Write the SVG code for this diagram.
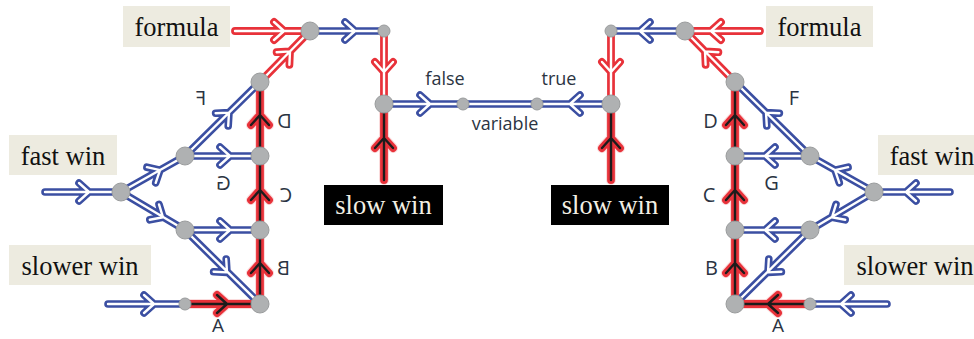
<svg xmlns="http://www.w3.org/2000/svg" width="974" height="339" viewBox="0 0 974 339">
<style>
.e{fill:none;stroke-linecap:round;stroke-linejoin:round}
.bo{stroke:#3b4fa2;stroke-width:7.6}
.ro{stroke:#e8323a;stroke-width:7.8}
.rh{stroke:#f08a8e;stroke-width:10;opacity:0.3}
.ko{stroke:#e8323a;stroke-width:7.8}
.wi{stroke:#ffffff;stroke-width:2.4}
.ki{stroke:#1c1c1c;stroke-width:2.4}
.nd{fill:#afb1b2;stroke:#9a9c9d;stroke-width:1}
.box{fill:#edebe0}
.dbox{fill:#000000}
.lt{font-family:"Liberation Serif","DejaVu Serif",serif;font-size:26.5px;fill:#111111;text-anchor:middle}
.dt{font-family:"Liberation Serif","DejaVu Serif",serif;font-size:26.5px;fill:#f2efe4;text-anchor:middle}
.sl{font-family:"Open Sans","DejaVu Sans",sans-serif;font-size:20px;fill:#2b3442;text-anchor:middle}
.vl{font-family:"Open Sans","DejaVu Sans",sans-serif;font-size:18px;fill:#2b3442;text-anchor:middle}
</style>
<defs>
<path id="e1" d="M235 31 L310 31 M274 22 L284 31 L274 40"/>
<path id="e2" d="M310 31 L384 31 M345 22 L355 31 L345 40"/>
<path id="e3" d="M384 31 L384 104 M375 62 L384 72 L393 62"/>
<path id="e4" d="M260 82 L310 31 M289.4 64.8 L290 51.4 L276.6 52.2"/>
<path id="e5" d="M185 156 L260 82 M228.2 126 L229 112.6 L215.6 113.2"/>
<path id="e6" d="M185 156 L260 156 M220 147 L230 156 L220 165"/>
<path id="e7" d="M260 156 L260 82 M251 125 L260 115 L269 125"/>
<path id="e8" d="M45 192 L121 192 M79 183 L89 192 L79 201"/>
<path id="e9" d="M121 192 L185 156 M155.7 182.8 L160 170.1 L146.9 167.2"/>
<path id="e10" d="M121 192 L185 230 M149.8 219.8 L163 217.3 L159 204.4"/>
<path id="e11" d="M185 230 L260 230 M220 221 L230 230 L220 239"/>
<path id="e12" d="M185 230 L260 304 M213.6 271.8 L227 272.4 L226.2 259"/>
<path id="e13" d="M260 230 L260 156 M251 200 L260 190 L269 200"/>
<path id="e14" d="M260 304 L260 230 M251 273 L260 263 L269 273"/>
<path id="e15" d="M108 304 L185 304 M144 295 L154 304 L144 313"/>
<path id="e16" d="M185 304 L260 304 M217 295 L227 304 L217 313"/>
<path id="e17" d="M384 180 L384 104 M375 148 L384 138 L393 148"/>
<path id="e18" d="M384 104 L463 104 M420 95 L430 104 L420 113"/>
<path id="e19" d="M463 104 L537 104"/>
<path id="e20" d="M611 104 L537 104 M580 95 L570 104 L580 113"/>
<path id="r1" d="M760 31 L685 31 M721 22 L711 31 L721 40"/>
<path id="r2" d="M685 31 L611 31 M650 22 L640 31 L650 40"/>
<path id="r3" d="M611 31 L611 104 M602 62 L611 72 L620 62"/>
<path id="r4" d="M735 82 L685 31 M705.6 64.8 L705 51.4 L718.4 52.2"/>
<path id="r5" d="M810 156 L735 82 M766.8 126 L766 112.6 L779.4 113.2"/>
<path id="r6" d="M810 156 L735 156 M775 147 L765 156 L775 165"/>
<path id="r7" d="M735 156 L735 82 M726 125 L735 115 L744 125"/>
<path id="r8" d="M950 192 L874 192 M916 183 L906 192 L916 201"/>
<path id="r9" d="M874 192 L810 156 M839.3 182.8 L835 170.1 L848.1 167.2"/>
<path id="r10" d="M874 192 L810 230 M845.2 219.8 L832 217.3 L836 204.4"/>
<path id="r11" d="M810 230 L735 230 M775 221 L765 230 L775 239"/>
<path id="r12" d="M810 230 L735 304 M781.4 271.8 L768 272.4 L768.8 259"/>
<path id="r13" d="M735 230 L735 156 M726 200 L735 190 L744 200"/>
<path id="r14" d="M735 304 L735 230 M726 273 L735 263 L744 273"/>
<path id="r15" d="M887 304 L810 304 M851 295 L841 304 L851 313"/>
<path id="r16" d="M810 304 L735 304 M778 295 L768 304 L778 313"/>
<path id="r17" d="M611 180 L611 104 M602 148 L611 138 L620 148"/>
</defs>

<g id="labels-boxes">
<g id="formula-left"><rect class="box" x="123" y="6" width="107" height="41"/><text class="lt" x="176.5" y="36">formula</text></g>
<g id="fastwin-left"><rect class="box" x="9" y="135" width="108" height="40"/><text class="lt" x="63" y="165">fast win</text></g>
<g id="slowerwin-left"><rect class="box" x="9" y="245" width="142" height="40"/><text class="lt" x="80" y="275">slower win</text></g>
<g id="slowwin-left"><rect class="dbox" x="324" y="185" width="119" height="40"/><text class="dt" x="383.5" y="214">slow win</text></g>
<g id="slowwin-right"><rect class="dbox" x="551" y="185" width="118" height="40"/><text class="dt" x="610" y="214">slow win</text></g>
<g id="formula-right"><rect class="box" x="766" y="6" width="107" height="41"/><text class="lt" x="819.5" y="36">formula</text></g>
<g id="fastwin-right"><rect class="box" x="878" y="135" width="108" height="40"/><text class="lt" x="932" y="165">fast win</text></g>
<g id="slowerwin-right"><rect class="box" x="844" y="245" width="142" height="40"/><text class="lt" x="915" y="275">slower win</text></g>
</g>

<g id="connectors" class="e">
<g class="rh">
<use href="#e7"/><use href="#e13"/><use href="#e14"/><use href="#e16"/><use href="#e17"/>
<use href="#r7"/><use href="#r13"/><use href="#r14"/><use href="#r16"/><use href="#r17"/>
</g>
<g class="bo">
<use href="#e2"/><use href="#e5"/><use href="#e6"/><use href="#e8"/><use href="#e9"/><use href="#e10"/><use href="#e11"/><use href="#e12"/><use href="#e15"/>
<use href="#e18"/><use href="#e19"/><use href="#e20"/>
<use href="#r2"/><use href="#r5"/><use href="#r6"/><use href="#r8"/><use href="#r9"/><use href="#r10"/><use href="#r11"/><use href="#r12"/><use href="#r15"/>
</g>
<g class="ro">
<use href="#e1"/><use href="#e3"/><use href="#e4"/>
<use href="#r1"/><use href="#r3"/><use href="#r4"/>
</g>
<g class="ko">
<use href="#e7"/><use href="#e13"/><use href="#e14"/><use href="#e16"/><use href="#e17"/>
<use href="#r7"/><use href="#r13"/><use href="#r14"/><use href="#r16"/><use href="#r17"/>
</g>
<g class="wi">
<use href="#e1"/><use href="#e2"/><use href="#e3"/><use href="#e4"/><use href="#e5"/><use href="#e6"/><use href="#e8"/><use href="#e9"/><use href="#e10"/><use href="#e11"/><use href="#e12"/><use href="#e15"/>
<use href="#e18"/><use href="#e19"/><use href="#e20"/>
<use href="#r1"/><use href="#r2"/><use href="#r3"/><use href="#r4"/><use href="#r5"/><use href="#r6"/><use href="#r8"/><use href="#r9"/><use href="#r10"/><use href="#r11"/><use href="#r12"/><use href="#r15"/>
</g>
<g class="ki">
<use href="#e7"/><use href="#e13"/><use href="#e14"/><use href="#e16"/><use href="#e17"/>
<use href="#r7"/><use href="#r13"/><use href="#r14"/><use href="#r16"/><use href="#r17"/>
</g>
</g>

<g id="nodes">
<g id="n-l-formula"><circle class="nd" cx="310" cy="31" r="9"/></g>
<g id="n-l-top"><circle class="nd" cx="384" cy="31" r="6"/></g>
<g id="n-l-var"><circle class="nd" cx="384" cy="104" r="9"/></g>
<g id="n-l-f"><circle class="nd" cx="260" cy="82" r="9"/></g>
<g id="n-l-g"><circle class="nd" cx="185" cy="156" r="9"/></g>
<g id="n-l-d"><circle class="nd" cx="260" cy="156" r="9"/></g>
<g id="n-l-fast"><circle class="nd" cx="121" cy="192" r="9"/></g>
<g id="n-l-b2"><circle class="nd" cx="185" cy="230" r="9"/></g>
<g id="n-l-c"><circle class="nd" cx="260" cy="230" r="9"/></g>
<g id="n-l-a"><circle class="nd" cx="260" cy="304" r="9"/></g>
<g id="n-l-slower"><circle class="nd" cx="185" cy="304" r="6"/></g>
<g id="n-false"><circle class="nd" cx="463" cy="104" r="6"/></g>
<g id="n-true"><circle class="nd" cx="537" cy="104" r="6"/></g>
<g id="n-r-formula"><circle class="nd" cx="685" cy="31" r="9"/></g>
<g id="n-r-top"><circle class="nd" cx="611" cy="31" r="6"/></g>
<g id="n-r-var"><circle class="nd" cx="611" cy="104" r="9"/></g>
<g id="n-r-f"><circle class="nd" cx="735" cy="82" r="9"/></g>
<g id="n-r-g"><circle class="nd" cx="810" cy="156" r="9"/></g>
<g id="n-r-d"><circle class="nd" cx="735" cy="156" r="9"/></g>
<g id="n-r-fast"><circle class="nd" cx="874" cy="192" r="9"/></g>
<g id="n-r-b2"><circle class="nd" cx="810" cy="230" r="9"/></g>
<g id="n-r-c"><circle class="nd" cx="735" cy="230" r="9"/></g>
<g id="n-r-a"><circle class="nd" cx="735" cy="304" r="9"/></g>
<g id="n-r-slower"><circle class="nd" cx="810" cy="304" r="6"/></g>
</g>

<g id="edge-labels">
<text class="vl" x="445" y="85">false</text>
<text class="vl" x="559" y="85">true</text>
<text class="vl" x="505" y="130">variable</text>
<text class="sl" transform="translate(201,105) scale(-1,1)">F</text>
<text class="sl" transform="translate(284.5,128) scale(-1,1)">D</text>
<text class="sl" transform="translate(223.5,190) scale(-1,1)">G</text>
<text class="sl" transform="translate(286,202) scale(-1,1)">C</text>
<text class="sl" transform="translate(283.5,275) scale(-1,1)">B</text>
<text class="sl" style="font-size:19px" transform="translate(218,332) scale(-1,1)">A</text>
<text class="sl" x="794" y="105">F</text>
<text class="sl" x="710.5" y="128">D</text>
<text class="sl" x="771.5" y="190">G</text>
<text class="sl" x="709" y="202">C</text>
<text class="sl" x="711.5" y="275">B</text>
<text class="sl" style="font-size:19px" x="778" y="332">A</text>
</g>
</svg>
